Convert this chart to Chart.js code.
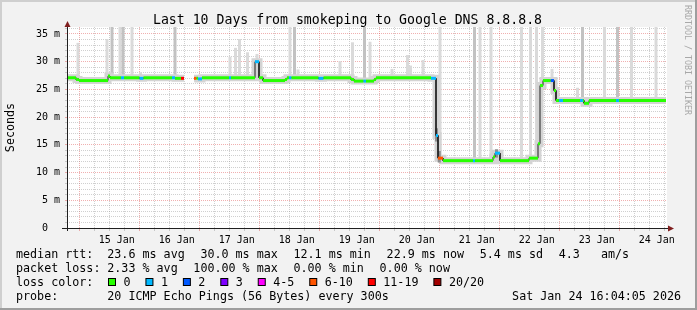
<!DOCTYPE html>
<html>
<head>
<meta charset="utf-8">
<script src="https://cdn.jsdelivr.net/npm/chart.js@4.4.1/dist/chart.umd.min.js"></script>
<style>
  html, body { margin: 0; padding: 0; background: #f2f2f2; overflow: hidden; }
  #wrap { position: relative; width: 697px; height: 310px; }
</style>
</head>
<body>
<div id="wrap"><canvas id="chart" width="697" height="310"></canvas></div>
<script>
// time axis is in hours since Wed Jan 14 16:04:05 2026 (10 days = 240 h)
const dayLabels = ['15 Jan', '16 Jan', '17 Jan', '18 Jan', '19 Jan', '20 Jan', '21 Jan', '22 Jan', '23 Jan', '24 Jan'];
const firstMidnight = 7.932; // Jan 15 00:00
const yTickValues = [0, 5, 10, 15, 20, 25, 30, 35];
const yTickLabels = ['0  ', '5 m', '10 m', '15 m', '20 m', '25 m', '30 m', '35 m'];

const lossLabels = ['0', '1', '2', '3', '4-5', '6-10', '11-19', '20/20'];
const lossColors = ['#26ff00', '#00b8ff', '#0059ff', '#7e00ff', '#ff00ff', '#ff5500', '#ff0000', '#a10000'];

const rttStats = ['23.6 ms avg', '30.0 ms max', '12.1 ms min', '22.9 ms now', '5.4 ms sd', '4.3   am/s'];
const lossStats = ['2.33 % avg', '100.00 % max', '0.00 % min', '0.00 % now'];
const probeText = '20 ICMP Echo Pings (56 Bytes) every 300s';
const stampText = 'Sat Jan 24 16:04:05 2026';

// median rtt (ms) as steps: each value holds until the next hour
const medianHours = [0, 3.6, 4.8, 16.4, 17.2, 21.6, 22.8, 29.0, 30.6, 42.0,
  43.2, 45.6, 46.8, 50.8, 51.8, 52.4, 54.0, 64.8, 65.6, 75.2,
  76.8, 78.4, 87.2, 88.0, 88.8, 89.8, 100.6, 102.6, 113.6, 114.8,
  118.6, 119.6, 122.8, 123.6, 145.6, 147.6, 148.4, 150.4, 162.4, 163.2,
  170.4, 171.2, 173.2, 184.8, 188.4, 189.2, 190.4, 193.5, 194.8, 195.6,
  196.8, 198.4, 205.2, 206.4, 206.8, 208.8, 219.6, 220.8, 239.6];
const medianValues = [27.1, 26.8, 26.6, 27.4, 27.1, 27.1, 27.1, 27.0, 27.1, 27.1,
  27.0, 27.0, null, 27.0, 27.0, 26.9, 27.1, 27.1, 27.1, 30.0,
  27.1, 26.6, 26.8, 27.1, 27.1, 27.1, 27.0, 27.1, 26.8, 26.5,
  26.5, 26.5, 26.8, 27.1, 27.0, 16.7, 12.6, 12.15, 12.15, 12.15,
  12.8, 13.5, 12.15, 12.6, 15.2, 25.7, 26.6, 26.6, 24.8, 23.0,
  23.0, 23.0, 23.0, 23.0, 22.5, 23.0, 23.0, 23.0, 23.0];
const medianLoss = [0, 0, 0, 0, 0, 1, 0, 1, 0, 1,
  0, 6, 0, 5, 0, 1, 0, 1, 0, 1,
  0, 0, 0, 0, 1, 0, 1, 0, 0, 0,
  1, 0, 0, 0, 1, 1, 5, 0, 1, 0,
  0, 1, 0, 0, 0, 0, 0, 2, 0, 0,
  1, 0, 1, 0, 0, 0, 1, 0, 0];

// smoke (spread of the 20 pings), ms
const smokeHours = [4.4, 16.0, 18.0, 21.2, 22.4, 26.0, 29.4, 43.2, 65.2, 67.4,
  69.0, 72.2, 76.0, 89.2, 91.0, 92.4, 109.2, 114.2, 119.0, 121.2,
  130.0, 136.2, 137.4, 142.4, 149.2, 163.0, 165.2, 169.6, 181.8, 185.4,
  187.8, 190.2, 194.0, 204.2, 206.2, 215.0, 220.2, 225.8, 235.6];
const smokeLow = [26.5, 26.8, 26.9, 26.9, 26.9, 26.9, 26.9, 26.9, 26.9, 26.9,
  26.9, 26.9, 26.9, 26.9, 26.9, 26.9, 26.9, 26.4, 26.4, 26.4,
  26.9, 26.9, 26.9, 26.9, 12.2, 12.2, 12.2, 12.2, 12.2, 12.5,
  12.5, 25.5, 26.4, 23.0, 23.0, 23.0, 23.0, 23.0, 23.0];
const smokeHigh = [33.4, 34.1, 36.3, 36.3, 36.3, 36.3, 28.1, 36.3, 30.9, 32.5,
  34.1, 31.7, 31.4, 36.3, 36.3, 28.6, 30.1, 33.5, 36.3, 33.6,
  28.7, 31.2, 29.3, 30.3, 36.3, 36.3, 36.3, 36.3, 36.3, 36.3,
  36.3, 36.3, 28.7, 25.3, 36.3, 36.3, 36.3, 36.3, 36.3];
const smokeDense = [0, 0, 1, 0, 1, 0, 0, 1, 0, 0,
  0, 0, 0, 0, 1, 0, 0, 0, 1, 0,
  0, 0, 0, 0, 0, 1, 0, 0, 0, 0,
  0, 0, 0, 0, 1, 0, 1, 0, 0];

// dark smoke around the drop on Jan 20 and the bump on Jan 21
const darkSmokeHours = [147.8, 148.9, 171.8];
const darkSmokeLow = [15.6, 11.8, 12.7];
const darkSmokeHigh = [18.0, 13.9, 14.2];

const yMax = 36.26;
const gridMinor = 'rgba(143,143,143,0.42)';
const gridMajor = 'rgba(222,79,79,0.45)';
const mono = '"DejaVu Sans Mono"';

// black median line: horizontal step then vertical jump
const stepLine = [];
for (let i = 0; i < medianHours.length - 1; i += 1) {
  const v = medianValues[i];
  if (v === null) {
    stepLine.push({ x: medianHours[i], y: null });
  } else {
    stepLine.push({ x: medianHours[i], y: v }, { x: medianHours[i + 1], y: v });
  }
}
// loss coloured band: horizontal pieces only
const bandLine = [];
for (let i = 0; i < medianHours.length - 1; i += 1) {
  const v = medianValues[i];
  bandLine.push({ x: medianHours[i], y: v }, { x: medianHours[i + 1], y: v }, { x: medianHours[i + 1], y: null });
}

const smokeBars = (dense) => smokeHours
  .map((h, i) => ({ x: h, y: [smokeLow[i], smokeHigh[i]], d: smokeDense[i] }))
  .filter((p) => p.d === dense);

const xTicks = [];
for (let t = firstMidnight - 6; t < 240; t += 6) xTicks.push({ value: t });
const yTicks = [];
for (let v = 0; v <= 36; v += 1) yTicks.push({ value: v });

const rrdDecor = {
  id: 'rrdDecor',
  beforeDraw(chart) {
    const { ctx, chartArea: a } = chart;
    ctx.save();
    ctx.fillStyle = '#f2f2f2';
    ctx.fillRect(0, 0, chart.width, chart.height);
    ctx.fillStyle = '#ffffff';
    ctx.fillRect(a.left, a.top, a.right - a.left, a.bottom - a.top);
    ctx.restore();
  },
  afterDatasetsDraw(chart) {
    const { ctx, chartArea: a } = chart;
    ctx.save();
    ctx.strokeStyle = '#1f1f1f';
    ctx.lineWidth = 1;
    ctx.beginPath();
    ctx.moveTo(a.left - 5, a.bottom + 0.5);
    ctx.lineTo(a.right + 2, a.bottom + 0.5);
    ctx.moveTo(a.left + 0.5, a.bottom + 3);
    ctx.lineTo(a.left + 0.5, a.top - 2);
    ctx.stroke();
    ctx.fillStyle = '#801f1f';
    ctx.beginPath();
    ctx.moveTo(a.right + 1, a.bottom - 2.5);
    ctx.lineTo(a.right + 7, a.bottom + 0.5);
    ctx.lineTo(a.right + 1, a.bottom + 3.5);
    ctx.closePath();
    ctx.fill();
    ctx.beginPath();
    ctx.moveTo(a.left - 2.5, a.top);
    ctx.lineTo(a.left + 0.5, a.top - 6);
    ctx.lineTo(a.left + 3.5, a.top);
    ctx.closePath();
    ctx.fill();
    ctx.restore();
  },
  afterDraw(chart) {
    const { ctx } = chart;
    ctx.save();
    ctx.fillStyle = '#000';
    ctx.textBaseline = 'alphabetic';
    ctx.textAlign = 'center';
    ctx.font = `13.2px ${mono}`;
    ctx.fillText('Last 10 Days from smokeping to Google DNS 8.8.8.8', 347.5, 24);

    ctx.save();
    ctx.translate(11, 127.5);
    ctx.rotate(-Math.PI / 2);
    ctx.font = `11.7px ${mono}`;
    ctx.textBaseline = 'middle';
    ctx.fillText('Seconds', 0, 0);
    ctx.restore();

    ctx.save();
    ctx.translate(687.5, 5);
    ctx.rotate(Math.PI / 2);
    ctx.font = `8.3px ${mono}`;
    ctx.textAlign = 'left';
    ctx.textBaseline = 'middle';
    ctx.fillStyle = '#a8a8a8';
    ctx.fillText('RRDTOOL / TOBI OETIKER', 0, 0);
    ctx.restore();

    ctx.textAlign = 'left';
    ctx.font = `11.7px ${mono}`;
    const itemGap = 15.7;
    const rowY = [258.3, 272.2, 286.1, 300];
    ctx.fillText('median rtt:', 16, rowY[0]);
    ctx.fillText('packet loss:', 16, rowY[1]);
    ctx.fillText('loss color:', 16, rowY[2]);
    ctx.fillText('probe:', 16, rowY[3]);
    [[rttStats, rowY[0]], [lossStats, rowY[1]]].forEach(([items, y]) => {
      let x = 107.3;
      items.forEach((s) => {
        ctx.fillText(s, x, y);
        x += ctx.measureText(s).width + itemGap;
      });
    });
    ctx.fillText(probeText, 107.3, rowY[3]);
    ctx.textAlign = 'right';
    ctx.fillText(stampText, 681, rowY[3]);
    ctx.textAlign = 'left';

    let bx = 108.5;
    lossLabels.forEach((lab, i) => {
      ctx.fillStyle = lossColors[i];
      ctx.fillRect(bx, 278.5, 7, 7);
      ctx.strokeStyle = '#000';
      ctx.lineWidth = 1;
      ctx.strokeRect(bx, 278.5, 7, 7);
      ctx.fillStyle = '#000';
      ctx.fillText(lab, bx + 15, rowY[2]);
      bx += 15 + ctx.measureText(lab).width + 15.4;
    });

    ctx.fillStyle = '#cfcfcf';
    ctx.fillRect(0, 0, chart.width, 2);
    ctx.fillRect(0, 0, 2, chart.height);
    ctx.fillStyle = '#9e9e9e';
    ctx.fillRect(0, chart.height - 2, chart.width, 2);
    ctx.fillRect(chart.width - 2, 0, 2, chart.height);
    ctx.restore();
  },
};

new Chart(document.getElementById('chart'), {
  type: 'line',
  data: {
    datasets: [
      {
        type: 'bar',
        data: smokeBars(0),
        backgroundColor: '#dadada',
        barThickness: 3,
        grouped: false,
        inflateAmount: 0,
        borderWidth: 0,
        order: 6,
      },
      {
        type: 'bar',
        data: smokeBars(1),
        backgroundColor: '#c2c2c2',
        barThickness: 3,
        grouped: false,
        inflateAmount: 0,
        borderWidth: 0,
        order: 5,
      },
      {
        data: stepLine,
        borderColor: '#d4d4d4',
        borderWidth: 7,
        pointRadius: 0,
        order: 4,
      },
      {
        type: 'bar',
        data: darkSmokeHours.map((h, i) => ({ x: h, y: [darkSmokeLow[i], darkSmokeHigh[i]] })),
        backgroundColor: '#8e8e8e',
        barThickness: 3,
        grouped: false,
        inflateAmount: 0,
        borderWidth: 0,
        order: 3,
      },
      {
        data: stepLine,
        borderColor: '#202020',
        borderWidth: 1,
        pointRadius: 0,
        order: 2,
      },
      {
        data: bandLine,
        borderColor: lossColors[0],
        borderWidth: 3,
        pointRadius: 0,
        spanGaps: false,
        segment: {
          borderColor: (c) => lossColors[medianLoss[Math.floor(c.p0DataIndex / 3)]],
        },
        order: 1,
      },
    ],
  },
  options: {
    responsive: false,
    animation: false,
    devicePixelRatio: 1,
    layout: { padding: { left: 0, top: 27, right: 30, bottom: 0 } },
    plugins: { legend: { display: false }, tooltip: { enabled: false }, title: { display: false } },
    elements: { line: { tension: 0, fill: false } },
    scales: {
      x: {
        type: 'linear',
        min: 0,
        max: 240,
        offset: false,
        afterFit: (s) => { s.height = 82; },
        afterBuildTicks: (s) => { s.ticks = xTicks.map((t) => ({ value: t.value })); },
        ticks: {
          autoSkip: false,
          maxRotation: 0,
          minRotation: 0,
          padding: 3,
          color: '#000',
          font: { family: 'DejaVu Sans Mono', size: 10 },
          callback: (v, i) => (i % 4 === 3 ? dayLabels[(i - 3) / 4] : ''),
        },
        grid: {
          drawTicks: true,
          tickLength: 3,
          lineWidth: 1,
          color: (c) => (c.index % 4 === 1 ? gridMajor : gridMinor),
        },
        border: { display: false, dash: [1, 1] },
      },
      y: {
        type: 'linear',
        min: 0,
        max: yMax,
        afterFit: (s) => { s.width = 67; },
        afterBuildTicks: (s) => { s.ticks = yTicks.map((t) => ({ value: t.value })); },
        ticks: {
          autoSkip: false,
          padding: 5,
          color: '#000',
          font: { family: 'DejaVu Sans Mono', size: 10 },
          callback: (v) => {
            const k = yTickValues.indexOf(v);
            return k >= 0 ? yTickLabels[k] : '';
          },
        },
        grid: {
          drawTicks: true,
          tickLength: 2,
          lineWidth: 1,
          color: (c) => (c.tick && c.tick.value % 5 === 0 ? gridMajor : gridMinor),
        },
        border: { display: false, dash: [1, 1] },
      },
    },
  },
  plugins: [rrdDecor],
});
</script>
</body>
</html>
